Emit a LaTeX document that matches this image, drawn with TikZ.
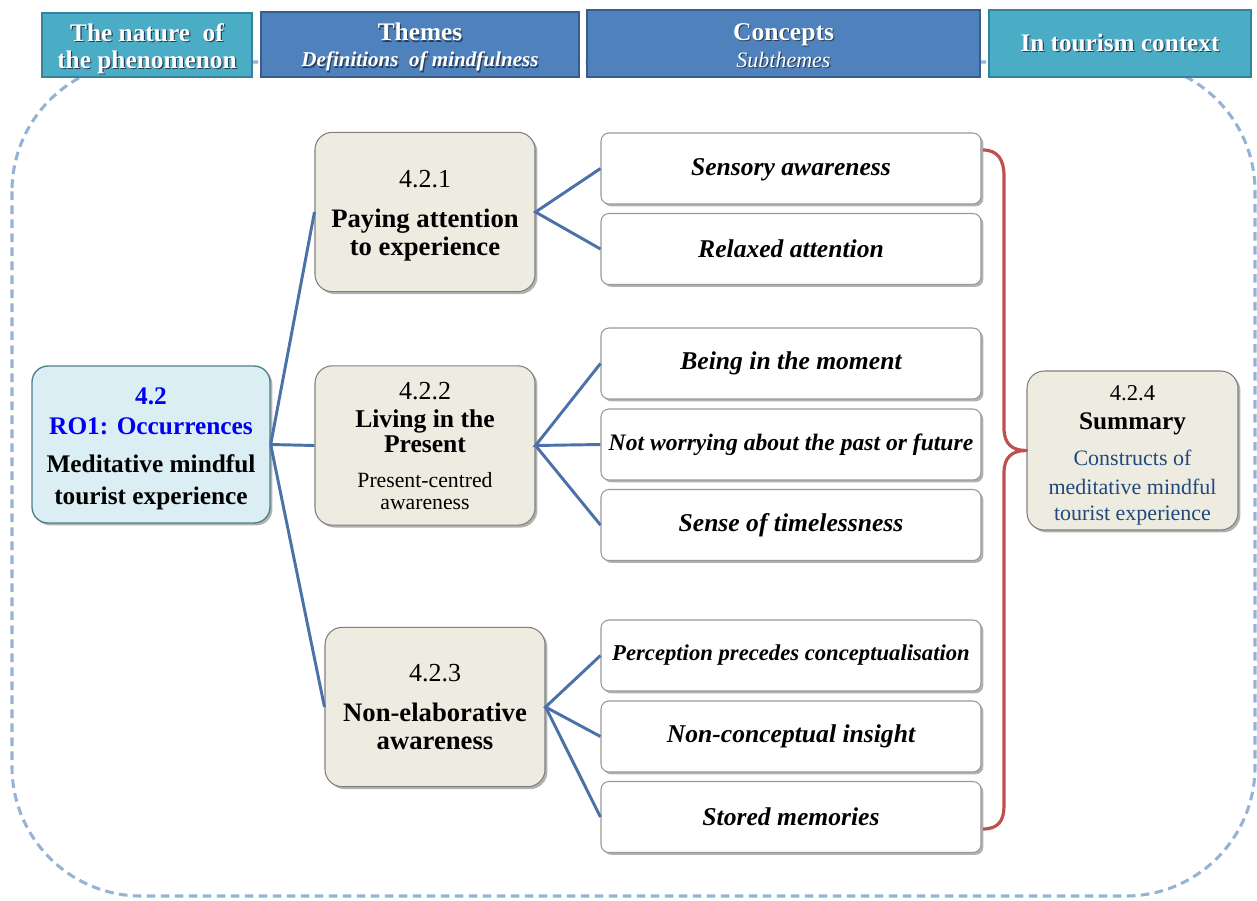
\documentclass[tikz,border=0pt]{standalone}
\usepackage{fontspec}
\setmainfont{Liberation Serif}
\usetikzlibrary{shadows}
\definecolor{tealfill}{HTML}{4BACC6}
\definecolor{tealdraw}{HTML}{31849B}
\definecolor{bluefill}{HTML}{4F81BD}
\definecolor{bluedraw}{HTML}{385D8A}
\definecolor{framecol}{HTML}{95B3D7}
\definecolor{linkcol}{HTML}{4A72A8}
\definecolor{mainfill}{HTML}{DBEEF4}
\definecolor{maindraw}{HTML}{4F7F8C}
\definecolor{themefill}{HTML}{EEECE1}
\definecolor{themedraw}{HTML}{7F7F7F}
\definecolor{bracecol}{HTML}{C0504D}
\definecolor{sumtext}{HTML}{1F497D}
\definecolor{rotext}{HTML}{0000F0}
\definecolor{txtshadow}{HTML}{2A3F55}
\newcommand{\fsz}[1]{\fontsize{#1}{#1}\selectfont}
% invisible strut that raises the top of a first line by #1 (pushes block down by #1/2)
\newcommand{\topgap}[1]{\rule{0pt}{\dimexpr\fontcharht\font`h+#1\relax}}
% white text with a dark offset shadow
\newcommand{\shtxt}[1]{\rlap{\kern0.9pt\raisebox{-0.9pt}{\textcolor{txtshadow}{#1}}}#1}
\tikzset{
  shd/.style={drop shadow={shadow xshift=1.8pt, shadow yshift=-1.8pt, opacity=0.3, fill=black}},
  headbox/.style={draw, line width=2.2pt, text=white, align=center, inner sep=0pt},
  tealhead/.style={headbox, fill=tealfill, draw=tealdraw},
  bluehead/.style={headbox, fill=bluefill, draw=bluedraw},
  mainbox/.style={shd, draw=maindraw, line width=1pt, fill=mainfill, rounded corners=12pt, align=center, inner sep=0pt, minimum width=178.5pt, minimum height=117.75pt},
  themebox/.style={shd, draw=themedraw, line width=0.8pt, fill=themefill, rounded corners=13pt, align=center, inner sep=0pt, minimum width=165pt, minimum height=119.5pt},
  conceptbox/.style={shd, draw=themedraw!80, line width=0.8pt, fill=white, rounded corners=6pt, align=center, inner sep=0pt, minimum width=285pt, minimum height=53.25pt, font=\bfseries\itshape\fontsize{19.2}{22}\selectfont},
  link/.style={draw=linkcol, line width=2.2pt},
  bracestyle/.style={draw=bracecol, line width=2.4pt, line join=round},
  framestyle/.style={draw=framecol, line width=2.3pt, dash pattern=on 6.5pt off 4pt, rounded corners=97pt}
}
\begin{document}
\begin{tikzpicture}[x=0.75pt,y=-0.75pt]
\useasboundingbox (0,0) rectangle (1257,900);
% dashed frame
\draw[framestyle] (12,62) rectangle (1255,896);
% headers
\node[tealhead, minimum width=157.5pt, minimum height=48pt, font=\bfseries\fontsize{19}{20.25}\selectfont] (h1) at (147,45)
  {\topgap{6.8pt}\shtxt{The nature\ \ of}\\\shtxt{the phenomenon}};
\node[bluehead, minimum width=238.5pt, minimum height=48.75pt, font=\bfseries\fontsize{19}{19.5}\selectfont] (h2) at (420,44.5)
  {\topgap{6pt}\shtxt{Themes}\\{\itshape\fsz{15.8}\shtxt{Definitions\ \ of mindfulness}}};
\node[bluehead, minimum width=294.75pt, minimum height=50.25pt, font=\bfseries\fontsize{19.2}{20.25}\selectfont] (h3) at (783.5,43.5)
  {\topgap{4pt}\shtxt{Concepts}\\{\mdseries\itshape\fsz{16.5}\shtxt{Subthemes}}};
\node[tealhead, minimum width=196.5pt, minimum height=50.25pt, font=\bfseries\fontsize{18.9}{21}\selectfont] (h4) at (1120,43.5)
  {\shtxt{In tourism context}};
% main node
\node[mainbox, font=\bfseries\fontsize{19}{22.5}\selectfont] (main) at (151,444.5)
  {\topgap{6pt}\textcolor{rotext}{4.2}\\\textcolor{rotext}{RO1: Occurrences}\\[6pt]
   Meditative mindful\\[1.5pt]tourist experience};
% theme nodes
\node[themebox, font=\fontsize{20}{21}\selectfont] (t1) at (425,212)
  {{\fsz{19.5}\topgap{6pt}4.2.1}\\[9pt]
   \textbf{Paying attention}\\\textbf{to experience}};
\node[themebox, font=\fontsize{19.2}{18.75}\selectfont] (t2) at (425,445.5)
  {{\fsz{19.5}4.2.2}\\[2.25pt]
   \textbf{Living in the}\\\textbf{Present}\\[7.5pt]
   {\fsz{16.3}Present-centred}\\[-2.25pt]{\fsz{16.3}awareness}};
\node[themebox, font=\fontsize{20}{21}\selectfont] (t3) at (435,707)
  {{\fsz{19.5}4.2.3}\\[9pt]
   \textbf{Non-elaborative}\\\textbf{awareness}};
% concept nodes
\node[conceptbox] (c1) at (791,168.5) {\topgap{2pt}Sensory awareness};
\node[conceptbox] (c2) at (791,249) {Relaxed attention};
\node[conceptbox] (c3) at (791,363.5) {Being in the moment};
\node[conceptbox, font=\bfseries\itshape\fontsize{17.7}{20}\selectfont] (c4) at (791,444.5) {Not worrying about the past or future};
\node[conceptbox] (c5) at (791,525) {Sense of timelessness};
\node[conceptbox, font=\bfseries\itshape\fontsize{17}{20}\selectfont] (c6) at (791,655.5) {Perception precedes conceptualisation};
\node[conceptbox] (c7) at (791,736.5) {Non-conceptual insight};
\node[conceptbox] (c8) at (791,817) {Stored memories};
% summary
\node[themebox, minimum width=158.25pt, minimum height=119.25pt, font=\fontsize{16.5}{20.5}\selectfont] (sum) at (1132.5,450.5)
  {{\fsz{17}\topgap{8pt}4.2.4}\\[1.25pt]
   {\bfseries\fsz{19}Summary}\\[6.5pt]
   \textcolor{sumtext}{Constructs of}\\[1.25pt]\textcolor{sumtext}{meditative mindful}\\[-1pt]\textcolor{sumtext}{tourist experience}};
% links
\draw[link] (main.east) -- (t1.west);
\draw[link] (main.east) -- (t2.west);
\draw[link] (main.east) -- (t3.west);
\draw[link] (c1.west) -- (t1.east) -- (c2.west);
\draw[link] (c3.west) -- (t2.east) -- (c4.west);
\draw[link] (t2.east) -- (c5.west);
\draw[link] (c6.west) -- (t3.east) -- (c7.west);
\draw[link] (t3.east) -- (c8.west);
% brace
\coordinate (btop) at (983,150);
\coordinate (bbot) at (983,829);
\draw[bracestyle] (btop) .. controls (998,150) and (1004,160) .. (1004,176) -- (1004,428)
  .. controls (1004,444) and (1012,450.5) .. (sum.west)
  .. controls (1012,450.5) and (1004,457) .. (1004,473) -- (1004,806)
  .. controls (1004,821) and (998,829) .. (bbot);
\end{tikzpicture}
\end{document}
